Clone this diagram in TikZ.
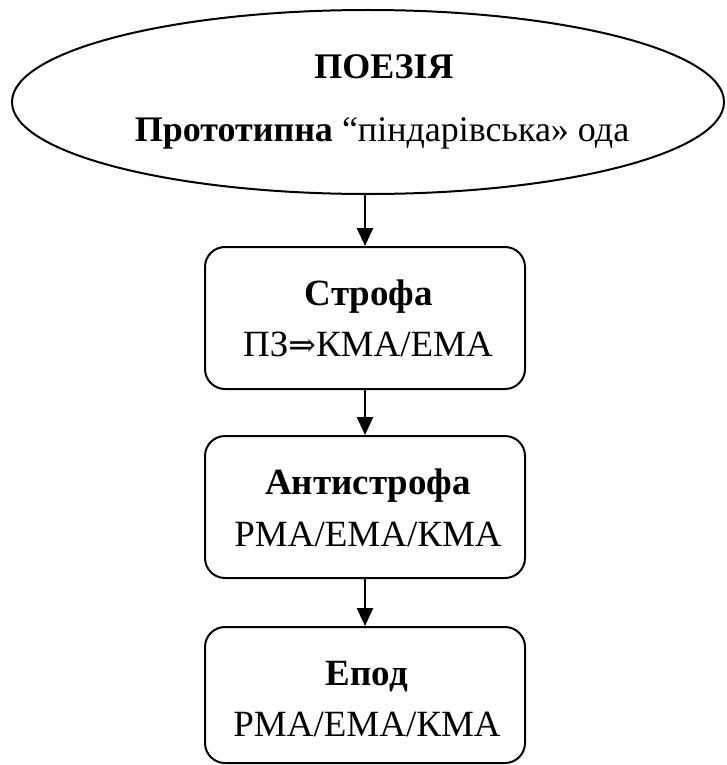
\documentclass[tikz,border=0pt]{standalone}
\usepackage{fontspec}
\setmainfont{Liberation Serif}
\newfontfamily\arrowfont{DejaVu Serif}
\usetikzlibrary{arrows.meta,shapes.geometric}
\begin{document}
\begin{tikzpicture}[x=1pt,y=-1pt,
  big/.style={font=\fontsize{36}{42}\selectfont, inner sep=0pt, anchor=base},
  boxtext/.style={font=\fontsize{37}{42}\selectfont, inner sep=0pt, anchor=base},
  stagebox/.style={draw, line width=2pt, rounded corners=20pt, minimum width=320pt, inner sep=0pt},
  link/.style={line width=2.6pt, -{Triangle[width=16pt,length=18pt]}}]
  \useasboundingbox (0,0) rectangle (726,765);

  % top ellipse
  \node[draw, ellipse, line width=2pt, minimum width=712pt, minimum height=184pt, inner sep=0pt]
    (poetry) at (368,102) {};
  \node[big] (poetryhead) at (384,79) {\textbf{ПОЕЗІЯ}};
  \node[big] (poetryline) at (382,142) {\textbf{Прототипна} “піндарівська» ода};

  % stages
  \node[stagebox, minimum height=142pt] (strophe) at (365,318) {};
  \node[boxtext] (strophehead) at (369,305) {\textbf{Строфа}};
  \node[boxtext] (stropheline) at (368,356) {ПЗ{\arrowfont\fontsize{33}{40}\selectfont ⇒}КМА/ЕМА};

  \node[stagebox, minimum height=142pt] (antistrophe) at (365,507) {};
  \node[boxtext] (antihead) at (368,494) {\textbf{Антистрофа}};
  \node[boxtext] (antiline) at (368,546) {РМА/ЕМА/КМА};

  \node[stagebox, minimum height=136pt] (epode) at (365,695) {};
  \node[boxtext] (epodehead) at (367,685) {\textbf{Епод}};
  \node[boxtext] (epodeline) at (367,736) {РМА/ЕМА/КМА};

  % connectors
  \draw[link] (poetry.south -| strophe.north) -- (strophe.north);
  \draw[link] (strophe.south) -- (antistrophe.north);
  \draw[link] (antistrophe.south) -- (epode.north);
\end{tikzpicture}
\end{document}
